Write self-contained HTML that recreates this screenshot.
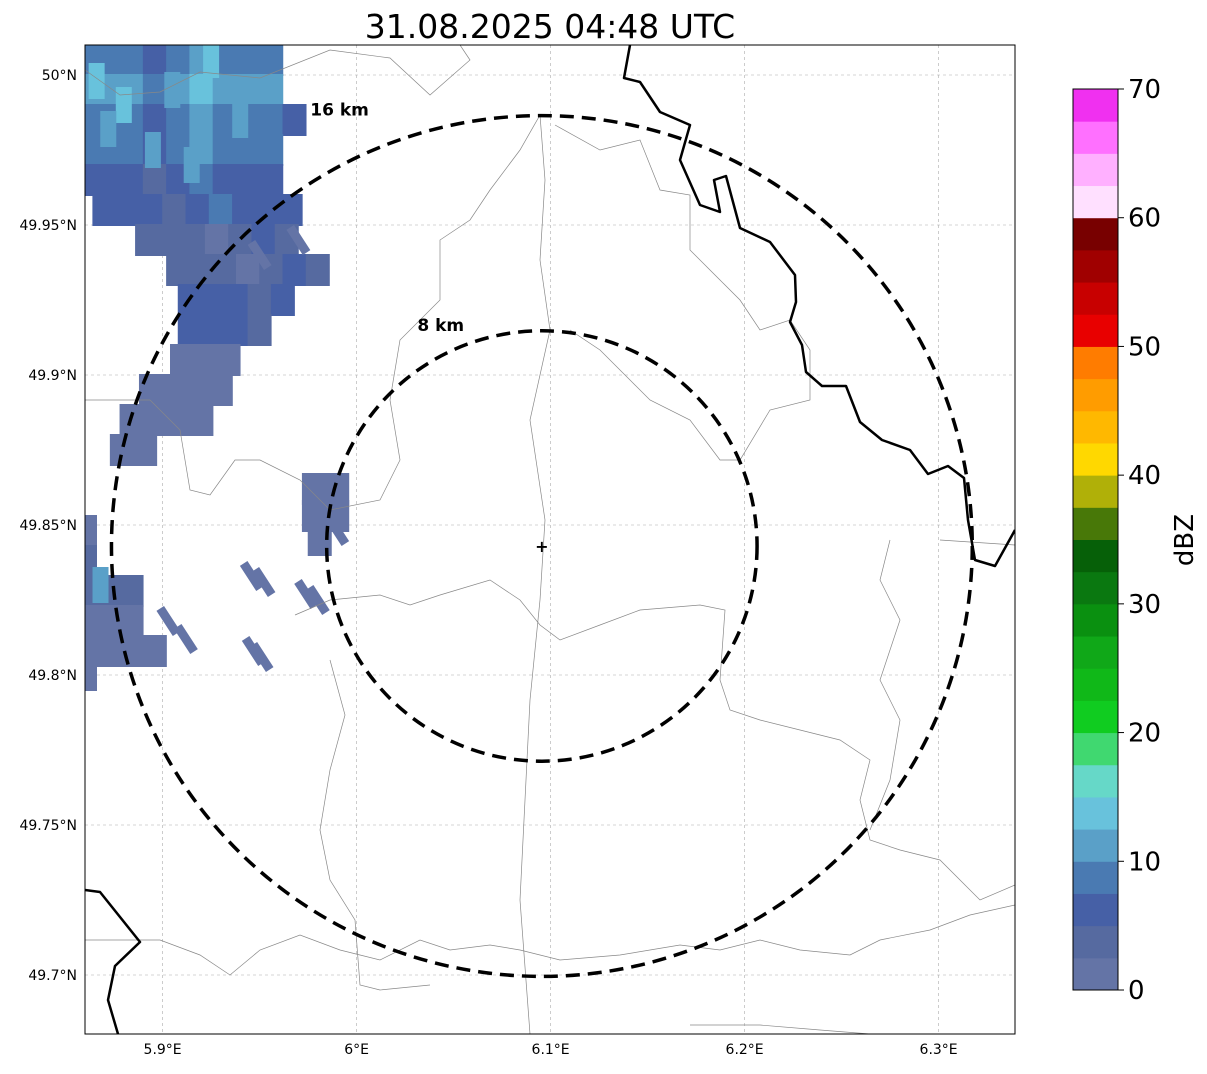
<!DOCTYPE html>
<html><head><meta charset="utf-8"><style>
body{margin:0;background:#fff;width:1207px;height:1069px;overflow:hidden;font-family:"Liberation Sans","DejaVu Sans",sans-serif}
svg text{font-family:"DejaVu Sans","Liberation Sans",sans-serif}
</style></head><body>
<svg id="chart" width="1207" height="1069" xmlns="http://www.w3.org/2000/svg">
<text x="550" y="38" font-size="33" text-anchor="middle">31.08.2025 04:48 UTC</text>
<defs><clipPath id="mapclip"><rect x="85" y="45" width="930" height="989"/></clipPath></defs>
<g id="grid"></g>
<g id="echoes" clip-path="url(#mapclip)"></g>
<g id="borders" clip-path="url(#mapclip)" fill="none"></g>
<g id="rings"></g>
<rect x="85" y="45" width="930" height="989" fill="none" stroke="#000" stroke-width="1"/>
<g id="ticks"></g>
<g id="cbar"></g>
</svg>
<script>
const lonTicks=[5.9,6.0,6.1,6.2,6.3];
const lonLabels=["5.9°E","6°E","6.1°E","6.2°E","6.3°E"];
const latTicks=[50.0,49.95,49.9,49.85,49.8,49.75,49.7];
const latLabels=["50°N","49.95°N","49.9°N","49.85°N","49.8°N","49.75°N","49.7°N"];
const cbTicks=[0,10,20,30,40,50,60,70];
const cbColors=["#6474a6","#566aa0","#4660a6","#4a7ab2","#5aa0c8","#68c2dc","#66d8c8","#40d870","#10cc20","#10b818","#10a818","#0a9010","#0a7810","#066008","#487808","#b0b008","#ffd800","#ffb800","#ff9c00","#ff7c00","#e80000","#c80000","#a00000","#780000","#ffe0ff","#ffb0ff","#ff70ff","#f030f0"];
const radarLon=6.0955, radarLat=49.843;
const ringKm=[8,16];
// echo spans: [lat, lonStart, lonEnd, dBZ]
const spanLat=[50.005,49.995,49.985,49.975,49.965,49.955,49.945,49.935,49.925,49.915,49.905,49.895,49.885,49.875,49.848,49.838,49.828,49.818,49.808,49.80,49.862,49.853,49.845];
const spanLon0=[5.860,5.860,5.860,5.860,5.860,5.870,5.892,5.908,5.914,5.914,5.910,5.894,5.884,5.879,5.860,5.860,5.860,5.860,5.860,5.860,5.978,5.978,5.981];
const spanLon1=[5.961,5.966,5.971,5.966,5.956,5.966,5.966,5.981,5.966,5.956,5.940,5.935,5.920,5.899,5.862,5.868,5.885,5.895,5.900,5.862,5.992,5.992,5.986];
const spanDbz=[9,10,9,8,6,5,4,3,6,5,2,1,1,1,2,4,3,2,1,1,1,1,1];
const hotLon=[5.866,5.880,5.905,5.925,5.872,5.895,5.915,5.940,5.868];
const hotLat=[49.998,49.990,49.995,50.005,49.982,49.975,49.970,49.985,49.830];
const hotDbz=[14,13,12,13,12,11,12,11,12];
const dotLon=[5.946,5.952,5.974,5.980,5.947,5.951,5.903,5.912,5.950,5.970,5.985,5.990];
const dotLat=[49.833,49.831,49.827,49.825,49.808,49.806,49.818,49.812,49.940,49.945,49.862,49.848];
const dotDbz=[1,1,1,1,1,1,2,1,1,1,1,1];

const X=lon=>85+(lon-5.86)*1940;
const Y=lat=>45+(50.01-lat)*3000;
const NS="http://www.w3.org/2000/svg";
function mk(tag,attrs,parent){const e=document.createElementNS(NS,tag);for(const k in attrs)e.setAttribute(k,attrs[k]);parent.appendChild(e);return e;}
const colorFor=d=>cbColors[Math.max(0,Math.min(27,Math.floor(d/2.5)))];

const grid=document.getElementById('grid');
lonTicks.forEach(v=>{const l=mk('line',{x1:X(v),x2:X(v),y1:45,y2:1034,stroke:'#aaa','stroke-width':0.6,'stroke-dasharray':'3,3'},grid);
});
latTicks.forEach(v=>{const l=mk('line',{x1:85,x2:1015,y1:Y(v),y2:Y(v),stroke:'#aaa','stroke-width':0.6,'stroke-dasharray':'3,3'},grid);
});

const ech=document.getElementById('echoes');
function cell(lon,lat,d,w,h,rot){
 const cx=X(lon),cy=Y(lat);
 const a={x:cx-w/2,y:cy-h/2,width:w,height:h,fill:colorFor(d)};
 if(rot)a.transform=`rotate(-33 ${cx} ${cy})`;
 const r=mk('rect',a,ech);
 }
spanLat.forEach((lat,i)=>{let k=0;for(let lon=spanLon0[i];lon<=spanLon1[i]+1e-6;lon+=0.012){cell(lon,lat,spanDbz[i]+((k%3)-1)*2.5*(k%2),24,32,false);k++;}});
hotLon.forEach((lon,i)=>cell(lon,hotLat[i],hotDbz[i],16,36,false));
dotLon.forEach((lon,i)=>cell(lon,dotLat[i],dotDbz[i],9,30,true));

const bd=document.getElementById('borders');
const gray=[
[[85,70],[120,95],[160,92],[200,72],[260,78],[330,50],[390,58],[430,95],[470,60],[460,45]],
[[540,115],[545,180],[540,260],[550,330],[530,420],[545,520],[540,600],[530,700],[525,800],[520,900],[530,1034]],
[[540,115],[520,150],[490,190],[470,220],[440,240],[440,300],[400,340],[390,400],[400,460],[380,500],[330,510],[300,480],[260,460],[235,460],[210,495],[190,490],[180,430],[150,400],[110,400],[85,400]],
[[295,615],[330,600],[380,595],[410,605],[440,595],[490,580],[520,600],[540,625],[560,640],[600,625],[640,610],[700,605],[725,610],[720,680],[730,710],[760,720],[800,730],[840,740],[870,760],[860,800],[870,840],[900,850],[940,860],[980,900],[1015,885]],
[[555,125],[600,150],[640,140],[660,190],[690,195],[690,250],[720,280],[740,300],[760,330],[790,320],[810,350],[810,400],[770,410],[740,460],[720,460],[690,420],[650,400],[630,380],[600,350],[570,330]],
[[85,940],[160,940],[200,955],[230,975],[260,950],[300,935],[340,950],[380,960],[420,940],[450,950],[490,945],[520,950],[560,960],[620,955],[680,945],[720,950],[760,940],[800,950],[850,955],[880,940],[930,930],[970,915],[1015,905]],
[[330,660],[345,715],[330,770],[320,830],[330,880],[355,920],[360,985],[380,990],[430,985]],
[[890,540],[880,580],[900,620],[880,680],[900,720],[890,780],[870,830]],
[[940,540],[1015,545]],
[[690,1025],[760,1025],[820,1030],[870,1034]]
];
gray.forEach(p=>{const e=mk('polyline',{points:p.map(q=>q.join(',')).join(' '),stroke:'#888','stroke-width':0.7},bd);});
const black=[
[[630,45],[624,78],[640,82],[660,112],[690,125],[680,160],[700,205],[720,212],[714,180],[726,176],[740,228],[770,242],[795,275],[796,302],[790,322],[802,345],[806,372],[822,386],[846,386],[860,422],[882,440],[910,450],[928,474],[948,466],[964,478],[968,520],[975,560],[995,566],[1015,530]],
[[85,890],[100,892],[140,942],[115,966],[108,1000],[118,1034]]
];
black.forEach(p=>{const e=mk('polyline',{points:p.map(q=>q.join(',')).join(' '),stroke:'#000','stroke-width':2.5,'stroke-linejoin':'round'},bd);});

const rings=document.getElementById('rings');
const cx=X(radarLon),cy=Y(radarLat);
ringKm.forEach(km=>{const r=km*26.9;
 const c=mk('circle',{cx:cx,cy:cy,r:r,fill:'none',stroke:'#000','stroke-width':3.5,'stroke-dasharray':'14,8'},rings);
 
 const t=mk('text',{x:cx-r*0.47,y:cy-r*1.0,'font-size':17,'font-weight':'bold','text-anchor':'middle'},rings);t.textContent=km+' km';
 });
const m=mk('text',{x:cx,y:cy+6,'font-size':16,'font-weight':'bold','text-anchor':'middle'},rings);m.textContent='+';


const tk=document.getElementById('ticks');
lonTicks.forEach((v,i)=>{const t=mk('text',{x:X(v),y:1054,'font-size':14,'text-anchor':'middle'},tk);t.textContent=lonLabels[i];
});
latTicks.forEach((v,i)=>{const t=mk('text',{x:77,y:Y(v)+5,'font-size':14,'text-anchor':'end'},tk);t.textContent=latLabels[i];
});

const cb=document.getElementById('cbar');
const CY=v=>990-v*(901/70);
cbColors.forEach((c,i)=>{const r=mk('rect',{x:1073,y:CY((i+1)*2.5),width:45,height:CY(i*2.5)-CY((i+1)*2.5)+0.5,fill:c},cb);
});
mk('rect',{x:1073,y:89,width:45,height:901,fill:'none',stroke:'#000','stroke-width':1},cb);
cbTicks.forEach(v=>{mk('line',{x1:1118,x2:1124,y1:CY(v),y2:CY(v),stroke:'#000'},cb);
const t=mk('text',{x:1128,y:CY(v)+9,'font-size':26},cb);t.textContent=v;
});
const u=mk('text',{x:1193,y:540,'font-size':26,'text-anchor':'middle',transform:'rotate(-90 1193 540)'},cb);u.textContent='dBZ';

</script>
</body></html>
